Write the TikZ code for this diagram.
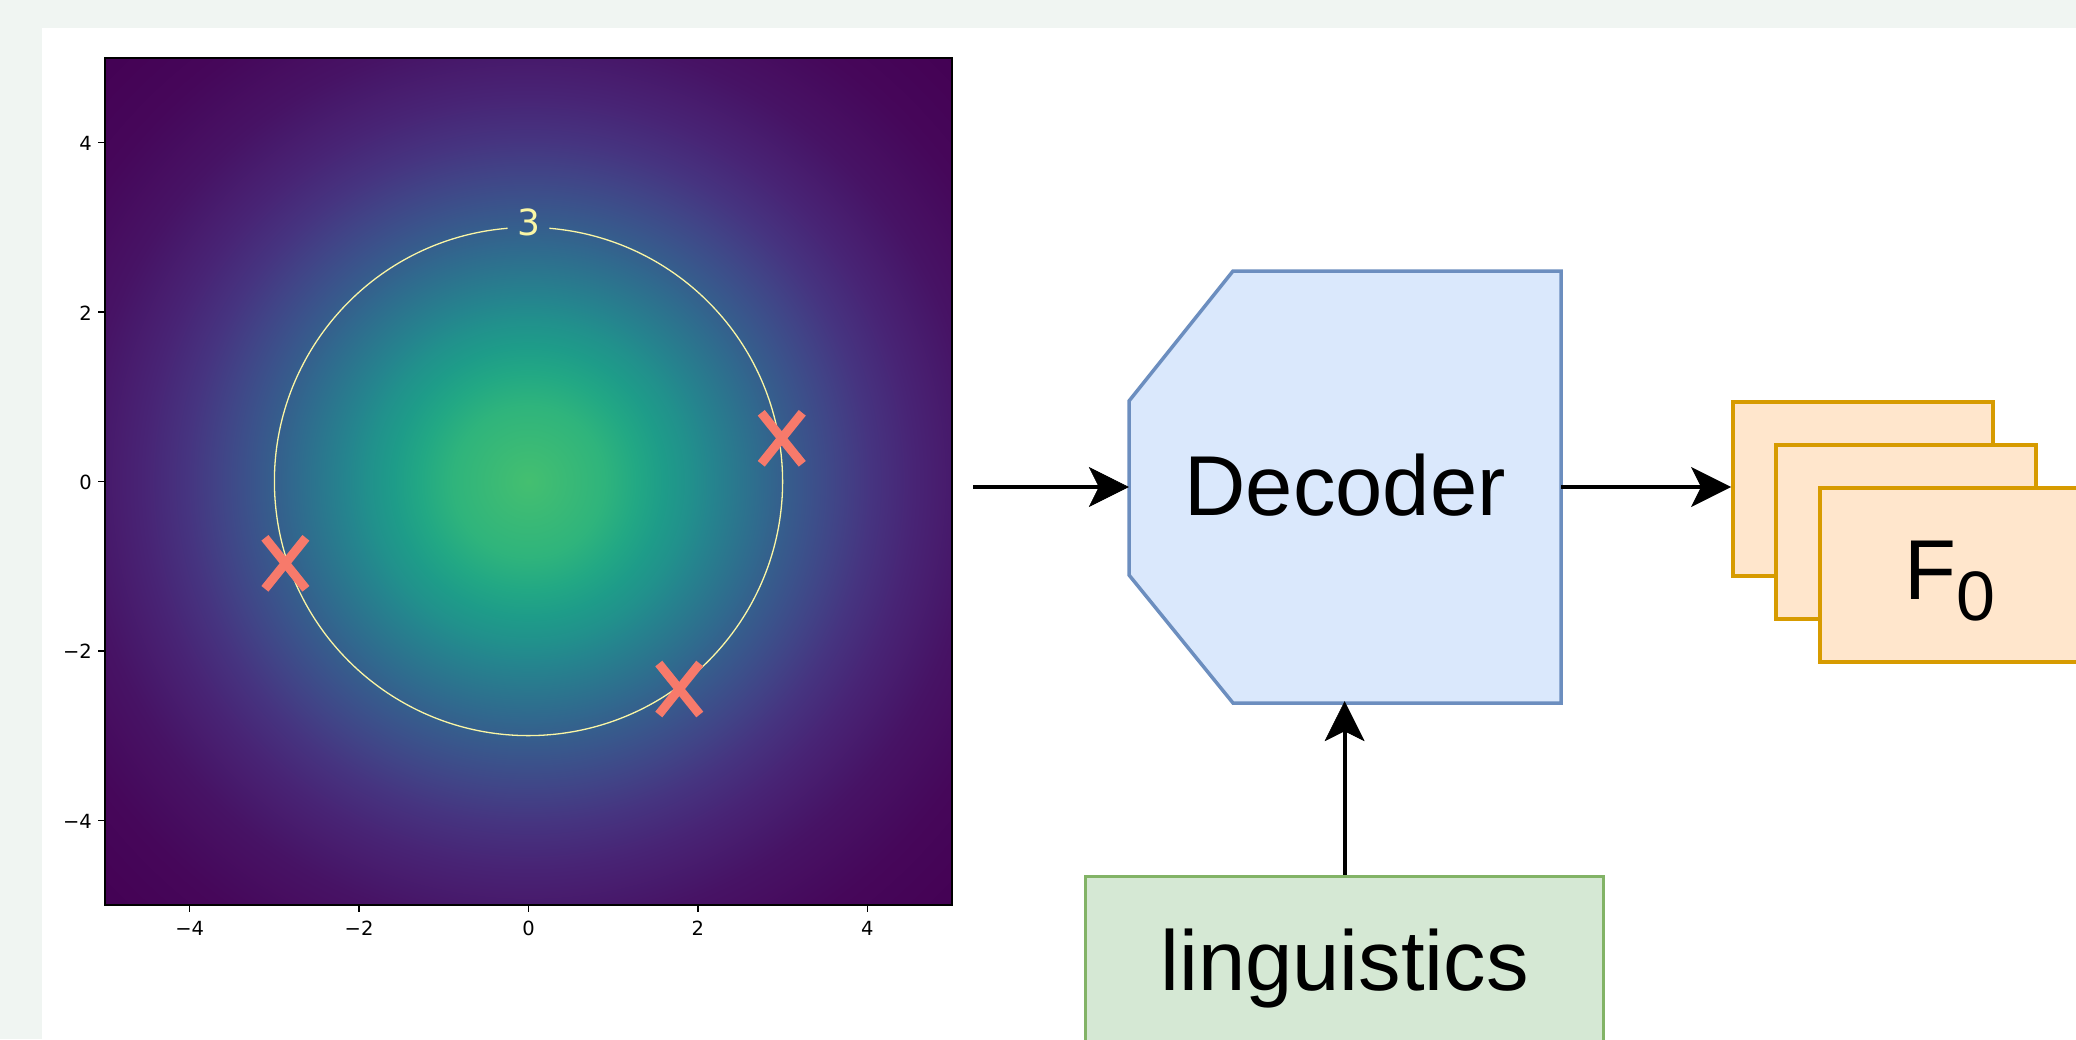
\documentclass[tikz,border=0pt]{standalone}
\usepackage{fontspec}
\setmainfont{Liberation Sans}
\newfontfamily\dejavu{DejaVu Sans}
\usetikzlibrary{arrows.meta}
\definecolor{outerbg}{HTML}{F0F5F2}
\definecolor{decfill}{HTML}{DAE8FC}
\definecolor{decdraw}{HTML}{6C8EBF}
\definecolor{lingfill}{HTML}{D5E8D4}
\definecolor{lingdraw}{HTML}{82B366}
\definecolor{ffill}{HTML}{FFE6CC}
\definecolor{fdraw}{HTML}{D79B00}
\definecolor{xcol}{HTML}{F77A6B}
\definecolor{contcol}{HTML}{FAF6A5}
\definecolor{v00}{HTML}{440154}
\definecolor{v02}{HTML}{46075A}
\definecolor{v05}{HTML}{471365}
\definecolor{v10}{HTML}{482475}
\definecolor{v15}{HTML}{463480}
\definecolor{v20}{HTML}{414487}
\definecolor{v25}{HTML}{3B528B}
\definecolor{v30}{HTML}{355F8D}
\definecolor{v35}{HTML}{2F6C8E}
\definecolor{v40}{HTML}{2A788E}
\definecolor{v45}{HTML}{25848E}
\definecolor{v50}{HTML}{21918C}
\definecolor{v55}{HTML}{1E9C89}
\definecolor{v60}{HTML}{22A884}
\definecolor{v65}{HTML}{2FB47C}
\definecolor{v70}{HTML}{44BF70}
% path bounding box <-> central 50bp square, so 1 data unit = 5bp
\pgfdeclareradialshading{viridisr}{\pgfpoint{0bp}{0bp}}{%
color(0bp)=(v70); color(4.45bp)=(v65); color(6.4bp)=(v60); color(8bp)=(v55);
color(9.45bp)=(v50); color(10.85bp)=(v45); color(12.2bp)=(v40); color(13.55bp)=(v35);
color(15bp)=(v30); color(16.55bp)=(v25); color(18.25bp)=(v20); color(20.2bp)=(v15);
color(22.75bp)=(v10); color(26.45bp)=(v05); color(30.7bp)=(v02); color(35.5bp)=(v00); color(50bp)=(v00)}
\tikzset{
  arr/.style={line width=4pt, -{Stealth[length=40pt,width=40pt,inset=10pt,line width=0.5pt]}},
  fbox/.style={draw=fdraw, fill=ffill, line width=4pt, minimum width=260pt, minimum height=174pt, inner sep=0pt},
  bigtext/.style={font=\fontsize{85}{100}\selectfont},
  ticklbl/.style={font=\dejavu\fontsize{19.5}{23}\selectfont, inner sep=0pt},
  xmark/.style={draw=xcol, line width=9pt},
  tickline/.style={line width=1.3pt},
}
\begin{document}
\begin{tikzpicture}[x=1pt,y=-1pt]
\useasboundingbox (0,0) rectangle (2076,1039);
\clip (0,0) rectangle (2076,1039);
\fill[outerbg] (0,0) rectangle (2076,1039);
\fill[white] (42,28) rectangle (2076,1039);

% ---- plot ----
\shade[shading=viridisr] (105,58) rectangle (952,905);
\begin{scope}[shift={(528.5,481.5)}, x=84.7pt, y=84.7pt]
  \draw[contcol, line width=1.3pt] (94.7:3) arc[start angle=94.7, end angle=445.3, radius=3];
  \node[font=\dejavu\fontsize{36}{40}\selectfont, text=contcol, anchor=base, inner sep=0pt] (clbl) at (0.006,2.902) {3};
  \foreach \cx/\cy in {2.99/0.51, -2.87/-0.966, 1.78/-2.45}{
    \draw[xmark] (\cx-0.242,\cy+0.301) -- (\cx+0.242,\cy-0.301);
    \draw[xmark] (\cx-0.242,\cy-0.301) -- (\cx+0.242,\cy+0.301);
  }
  \draw[line width=1.5pt] (-5,-5) rectangle (5,5);
  \foreach \d/\lab/\nm in {-4/−4/a,-2/−2/b,0/0/c,2/2/d,4/4/e}{
    \draw[tickline] (\d,-5) -- ++(0pt,-7pt);
    \node[ticklbl, anchor=base] (xt\nm) at ([yshift=-30pt]\d,-5) {\lab};
    \draw[tickline] (-5,\d) -- ++(-7pt,0pt);
    \node[ticklbl, anchor=base east] (yt\nm) at ([xshift=-13pt,yshift=-8pt]-5,\d) {\lab};
  }
\end{scope}

% ---- decoder ----
\fill[decfill] (1233,271) -- (1561,271) -- (1561,703) -- (1233,703) -- (1129,575) -- (1129,401) -- cycle;
\draw[decdraw, line width=3.5pt, line join=miter] (1233,271) -- (1561,271) -- (1561,703) -- (1233,703) -- (1129,575) -- (1129,401) -- cycle;
\node[bigtext, minimum width=432pt, minimum height=432pt, inner sep=0pt] (dec) at (1345,485) {Decoder};

% ---- F0 boxes ----
\node[fbox] (f0a) at (1863,488.6) {};
\node[fbox] (f0b) at (1906,531.5) {};
\node[fbox] (f0c) at (1949.5,574.5) {};
\node[bigtext, anchor=base west, inner sep=0pt] (f0lbl) at (1904,599) {F\raisebox{-21pt}{\fontsize{70}{80}\selectfont 0}};

% ---- linguistics ----
\node[draw=lingdraw, fill=lingfill, line width=3.5pt, minimum width=518pt, minimum height=185pt, inner sep=0pt, bigtext] (ling) at (1344.6,969) {linguistics};

% ---- connectors ----
\coordinate (plotout) at (973,487);
\draw[arr] (plotout) -- (plotout -| dec.west);
\draw[arr] (dec.east |- plotout) -- (plotout -| f0a.west);
\draw[arr] (ling.north) -- (ling.north |- dec.south);
\end{tikzpicture}
\end{document}
